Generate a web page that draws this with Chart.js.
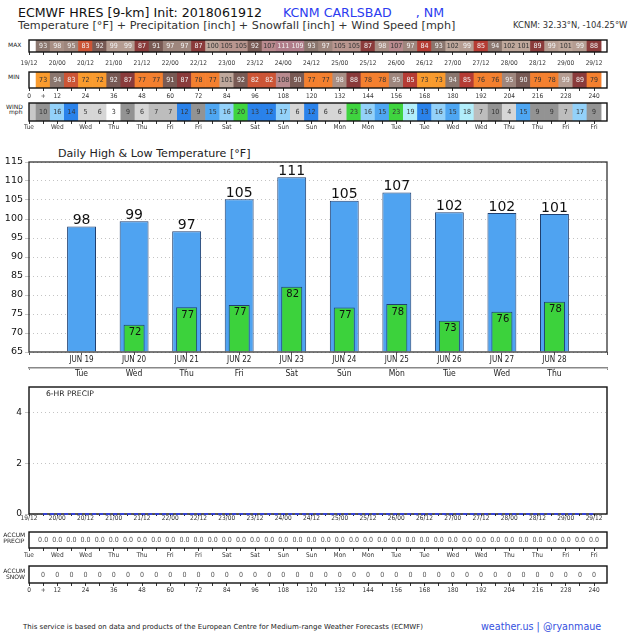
<!DOCTYPE html>
<html><head><meta charset="utf-8">
<script src="https://cdn.jsdelivr.net/npm/chart.js@4.4.0/dist/chart.umd.min.js"></script>
<style>
html,body{margin:0;padding:0;background:#fff;}
#wrap{position:relative;width:640px;height:636px;overflow:hidden;font-family:'DejaVu Sans',sans-serif;background:#fff;}
#wrap canvas{position:absolute;left:0;}
.t{position:absolute;white-space:pre;line-height:1;}
</style></head><body><div id="wrap"></div>
<script>
// ---------------- data ----------------
const hours = [6,12,18,24,30,36,42,48,54,60,66,72,78,84,90,96,102,108,114,120,126,132,138,144,150,156,162,168,174,180,186,192,198,204,210,216,222,228,234,240];
const maxTemp = [93,98,95,83,92,99,99,87,91,97,97,87,100,105,105,92,107,111,109,93,97,105,105,87,98,107,97,84,93,102,99,85,94,102,101,89,99,101,99,88];
const minTemp = [73,94,83,72,72,92,87,77,77,91,87,78,77,101,92,82,82,108,90,77,77,98,88,78,78,95,85,73,73,94,85,76,76,95,90,79,78,99,89,79];
const windHours = [0,6,12,18,24,30,36,42,48,54,60,66,72,78,84,90,96,102,108,114,120,126,132,138,144,150,156,162,168,174,180,186,192,198,204,210,216,222,228,234,240];
const windSpeed = [null,10,16,14,5,6,3,9,6,7,7,12,9,15,16,20,13,12,17,6,12,6,6,23,16,15,23,19,13,16,15,18,7,10,4,15,9,9,7,17,9];
const precip6h = [0,0,0,0,0,0,0,0,0,0,0,0,0,0,0,0,0,0,0,0,0,0,0,0,0,0,0,0,0,0,0,0,0,0,0,0,0,0,0,0];
const accumPrecip = [0.0,0.0,0.0,0.0,0.0,0.0,0.0,0.0,0.0,0.0,0.0,0.0,0.0,0.0,0.0,0.0,0.0,0.0,0.0,0.0,0.0,0.0,0.0,0.0,0.0,0.0,0.0,0.0,0.0,0.0,0.0,0.0,0.0,0.0,0.0,0.0,0.0,0.0,0.0,0.0];
const accumSnow = [0,0,0,0,0,0,0,0,0,0,0,0,0,0,0,0,0,0,0,0,0,0,0,0,0,0,0,0,0,0,0,0,0,0,0,0,0,0,0,0];
const dateTicks = ['19/12','20/00','20/12','21/00','21/12','22/00','22/12','23/00','23/12','24/00','24/12','25/00','25/12','26/00','26/12','27/00','27/12','28/00','28/12','29/00','29/12'];
const dayTicks = ['Tue','Wed','Wed','Thu','Thu','Fri','Fri','Sat','Sat','Sun','Sun','Mon','Mon','Tue','Tue','Wed','Wed','Thu','Thu','Fri','Fri'];
const hourTicks = ['0','12','24','36','48','60','72','84','96','108','120','132','144','156','168','180','192','204','216','228','240'];
const days = ['JUN 19','JUN 20','JUN 21','JUN 22','JUN 23','JUN 24','JUN 25','JUN 26','JUN 27','JUN 28'];
const weekdays = ['Tue','Wed','Thu','Fri','Sat','Sun','Mon','Tue','Wed','Thu'];
const dailyHigh = [98.0,99.4,96.8,105.2,111.0,104.8,107.0,101.8,101.6,101.3];
const dailyLow = [null,72.2,76.8,77.4,82.2,76.7,77.6,73.2,75.6,78.2];

// ---------------- styling helpers ----------------
const SANS = "'DejaVu Sans', sans-serif";
const COND = "'DejaVu Sans Condensed', 'DejaVu Sans', sans-serif";
Chart.defaults.font.family = SANS;
Chart.defaults.color = '#222';

function tempColor(v){
  if (v <= 74) return '#f99b2e';
  if (v <= 80) return '#f4802f';
  if (v <= 83) return '#cc5536';
  if (v <= 86) return '#b53c34';
  if (v <= 89) return '#8a3b3b';
  if (v <= 92) return '#785a54';
  if (v <= 94) return '#8a766e';
  if (v <= 97) return '#9e867d';
  if (v <= 98) return '#a88f85';
  if (v <= 99) return '#b59d92';
  if (v <= 102) return '#bfa89c';
  if (v <= 105) return '#b9968f';
  if (v <= 108) return '#b88a8e';
  return '#b07d8a';
}
function tempText(v){ return (v <= 80 || (v >= 100 && v <= 108)) ? '#333' : '#f2f2f2'; }
function windColor(v){
  if (v == null) return '#c8c8c8';
  if (v <= 3) return '#ffffff';
  if (v <= 6) return '#d6d6d6';
  if (v <= 8) return '#bdbdbd';
  if (v <= 11) return '#939393';
  if (v <= 14) return '#2a82ea';
  if (v <= 15) return '#4ea6f2';
  if (v <= 17) return '#93d1f9';
  if (v <= 19) return '#b2eefb';
  return '#3fd43f';
}
function sixHourLabel(arr, plus){
  return v => (v % 12 === 0) ? (arr[v/12] ?? '') : ((plus && v === 6) ? '+' : '');
}

// ---------------- plugins ----------------
const framePlugin = {
  id: 'frame',
  beforeDatasetsDraw(chart, args, o){ if (o && o.show && !o.over) drawFrame(chart, o); },
  afterDatasetsDraw(chart, args, o){ if (o && o.show && o.over) drawFrame(chart, o); }
};
function drawFrame(chart, o){
  const a = chart.chartArea, c = chart.ctx;
  c.save(); c.strokeStyle = o.color; c.lineWidth = o.width;
  c.strokeRect(a.left, a.top, a.right - a.left, a.bottom - a.top);
  c.restore();
}
const textPlugin = {
  id: 'celltext',
  afterDatasetsDraw(chart){
    const c = chart.ctx;
    chart.data.datasets.forEach((ds, di) => {
      const meta = chart.getDatasetMeta(di);
      if (ds.cellText) {
        c.save(); c.font = ds.cellText.font; c.textAlign = 'center'; c.textBaseline = 'middle';
        meta.data.forEach((el, i) => {
          const raw = ds.data[i]; if (!raw || raw.v == null) return;
          const p = el.getProps(['x','y','base'], true);
          c.fillStyle = ds.cellText.color(raw.v);
          c.fillText(ds.cellText.fmt(raw.v), p.x, (p.y + p.base) / 2 + 0.5);
        });
        c.restore();
      }
      if (ds.barLabel) {
        c.save(); c.font = ds.barLabel.font; c.textAlign = 'center'; c.fillStyle = ds.barLabel.color;
        meta.data.forEach((el, i) => {
          const raw = ds.data[i]; if (!raw) return;
          const p = el.getProps(['x','y'], true);
          const txt = String(Math.round(raw.y));
          if (ds.barLabel.pos === 'above') { c.textBaseline = 'bottom'; c.fillText(txt, p.x, p.y + 1); }
          else { c.textBaseline = 'top'; c.fillText(txt, p.x + 1, p.y + 3); }
        });
        c.restore();
      }
    });
  }
};
Chart.register(framePlugin, textPlugin);

const wrap = document.getElementById('wrap');
function addCanvas(top, h){
  const c = document.createElement('canvas');
  c.width = 640; c.height = h; c.style.width = '640px'; c.style.height = h + 'px'; c.style.top = top + 'px';
  wrap.appendChild(c); return c;
}
function addText(str, left, baseline, size, color, family){
  const d = document.createElement('div'); d.className = 't'; d.textContent = str;
  d.style.left = left + 'px'; d.style.top = (baseline - 0.846 * size) + 'px';
  d.style.fontSize = size + 'px'; d.style.color = color || '#222';
  if (family) d.style.fontFamily = family;
  wrap.appendChild(d);
}

function hourAxis(tickCb, axisH, tl, pad){
  return {
    type: 'linear', min: 0, max: 245.5, offset: false,
    grid: { offset: false, drawOnChartArea: false, drawTicks: true, tickLength: tl, color: '#333', lineWidth: 1 },
    border: { display: false },
    ticks: { stepSize: 6, includeBounds: false, autoSkip: false, maxRotation: 0, minRotation: 0, padding: pad,
             font: { family: COND, size: 6.5, lineHeight: 1 }, color: '#333', callback: tickCb },
    afterFit: s => { s.height = axisH; }
  };
}

function strip(top, boxH, axisH, tl, pad, xs, vals, colorFn, textFn, fmt, tickCb){
  const c = addCanvas(top, 2 + boxH + axisH);
  return new Chart(c, {
    type: 'bar',
    data: { datasets: [{
      data: xs.map((h, i) => ({ x: h, y: [0, 1], v: vals[i] })),
      backgroundColor: ctx => ctx.raw ? colorFn(ctx.raw.v) : 'transparent',
      borderWidth: 0, categoryPercentage: 1, barPercentage: 1, clip: 0,
      cellText: { font: "7px " + COND, color: textFn, fmt: fmt }
    }]},
    options: {
      responsive: false, animation: false, events: [],
      layout: { padding: { left: 29, right: 33, top: 2, bottom: 0 } },
      plugins: { legend: { display: false }, tooltip: { enabled: false }, frame: { show: true, over: true, color: '#111', width: 1.4 } },
      scales: { x: hourAxis(tickCb, axisH, tl, pad), y: { display: false, min: 0, max: 1 } }
    }
  });
}

// ---------------- header text ----------------
addText('ECMWF HRES [9-km] Init: 2018061912', 18, 17.3, 12.6, '#111');
addText('KCNM CARLSBAD      , NM', 283, 17.3, 12.6, '#2b3cf0');
addText('Temperature [°F] + Precipitation [inch] + Snowfall [inch] + Wind Speed [mph]', 18, 29.3, 11.2, '#333');
addText('KCNM: 32.33°N, -104.25°W', 513, 28.5, 8.4, '#333');
addText('MAX', 8, 47.5, 6, '#222');
addText('MIN', 8, 79.3, 6, '#222');
addText('WIND', 6, 109, 6, '#222');
addText('mph', 9, 114.5, 6, '#222');

// ---------------- strips ----------------
strip(38, 12, 16, 3, 5.2, hours, maxTemp, tempColor, tempText, v => String(v), sixHourLabel(dateTicks, false));
strip(70, 16, 14, 3, 2.2, hours, minTemp, tempColor, tempText, v => String(v), sixHourLabel(hourTicks, true));
strip(101, 18, 14, 3, 0.3, windHours, windSpeed, windColor, v => '#333', v => String(v), sixHourLabel(dayTicks, false));

// ---------------- daily high / low ----------------
addText('Daily High & Low Temperature [°F]', 58, 157.3, 11.1, '#222');
(function(){
  const c = addCanvas(155, 231);
  new Chart(c, {
    type: 'bar',
    data: { datasets: [
      { data: dailyHigh.map((v, i) => ({ x: i, y: v })), backgroundColor: '#4fa3f1', borderColor: '#1f3f6f', borderWidth: 1,
        categoryPercentage: 1, barPercentage: 0.55, grouped: false, base: 65, order: 2,
        barLabel: { pos: 'above', font: "14px " + SANS, color: '#111' } },
      { data: dailyLow.map((v, i) => v == null ? null : ({ x: i, y: v })).filter(Boolean), backgroundColor: '#3cd23c', borderColor: '#1f3f6f', borderWidth: 1,
        categoryPercentage: 1, barPercentage: 0.40, grouped: false, base: 65, order: 1,
        barLabel: { pos: 'inside', font: "10px " + SANS, color: '#111' } }
    ]},
    options: {
      responsive: false, animation: false, events: [],
      layout: { padding: { left: 0, right: 33, top: 7, bottom: 0 } },
      plugins: { legend: { display: false }, tooltip: { enabled: false }, frame: { show: true, over: true, color: '#333', width: 1.3 } },
      scales: {
        x: { type: 'linear', position: 'bottom', min: -1, max: 10, offset: false, weight: 0,
             grid: { offset: false, drawOnChartArea: false, tickLength: 3, color: '#555' }, border: { display: false },
             ticks: { stepSize: 1, includeBounds: false, autoSkip: false, maxRotation: 0, padding: 1,
                      font: { family: COND, size: 8, lineHeight: 1 }, color: '#222', callback: v => days[v] ?? '' },
             afterFit: s => { s.height = 16; } },
        x2: { type: 'linear', position: 'bottom', min: -1, max: 10, offset: false, weight: 1,
              grid: { offset: false, drawOnChartArea: false, tickLength: 2, color: '#888' }, border: { display: true, color: '#888', width: 1.5 },
              ticks: { stepSize: 1, includeBounds: false, autoSkip: false, maxRotation: 0, padding: 0,
                       font: { family: COND, size: 8.5, lineHeight: 1 }, color: '#222', callback: v => weekdays[v] ?? '' },
              afterFit: s => { s.height = 18; } },
        y: { min: 65, max: 115,
             ticks: { stepSize: 5, font: { size: 9.5, lineHeight: 1 }, color: '#111', padding: 2 },
             grid: { color: '#c4c4c4', tickLength: 4, lineWidth: 1 }, border: { display: false, dash: [1, 3] },
             afterFit: s => { s.width = 29; } }
      }
    }
  });
})();

// ---------------- 6-hr precip ----------------
(function(){
  const c = addCanvas(379, 149);
  new Chart(c, {
    type: 'line',
    data: { datasets: [{ data: hours.map((h, i) => ({ x: h, y: precip6h[i] })), borderColor: '#2b3cff', borderWidth: 1.6,
                         borderDash: [4, 3], pointRadius: 0, clip: false, tension: 0 }] },
    options: {
      responsive: false, animation: false, events: [],
      layout: { padding: { left: 0, right: 33, top: 8, bottom: 0 } },
      plugins: { legend: { display: false }, tooltip: { enabled: false }, frame: { show: true, over: false, color: '#111', width: 1.4 } },
      scales: {
        x: hourAxis(sixHourLabel(dateTicks, false), 14, 2, -0.7),
        y: { min: 0, max: 5, ticks: { stepSize: 2, includeBounds: false, font: { size: 9, lineHeight: 1 }, color: '#111', padding: 3 },
             grid: { color: '#c4c4c4', tickLength: 4 }, border: { display: false, dash: [1, 3] },
             afterFit: s => { s.width = 29; } }
      }
    }
  });
})();
addText('6-HR PRECIP', 46, 396.2, 7.6, '#222');

// ---------------- accum rows ----------------
strip(530, 16, 14, 3, 0.8, hours, accumPrecip, v => 'rgba(0,0,0,0)', v => '#555', v => v.toFixed(1), sixHourLabel(dayTicks, false));
strip(564, 17, 14, 3, 0.8, hours, accumSnow, v => 'rgba(0,0,0,0)', v => '#555', v => String(v), sixHourLabel(hourTicks, true));
addText('ACCUM', 3.3, 537.5, 6, '#222');
addText('PRECIP', 3.3, 542.8, 6, '#222');
addText('ACCUM', 3.3, 573.5, 6, '#222');
addText('SNOW', 6, 579, 6, '#222');

// ---------------- footer ----------------
addText('This service is based on data and products of the European Centre for Medium-range Weather Forecasts (ECMWF)', 23, 630, 7, '#222');
addText('weather.us | @ryanmaue', 481, 630, 9.6, '#3550e0');
</script></body></html>
